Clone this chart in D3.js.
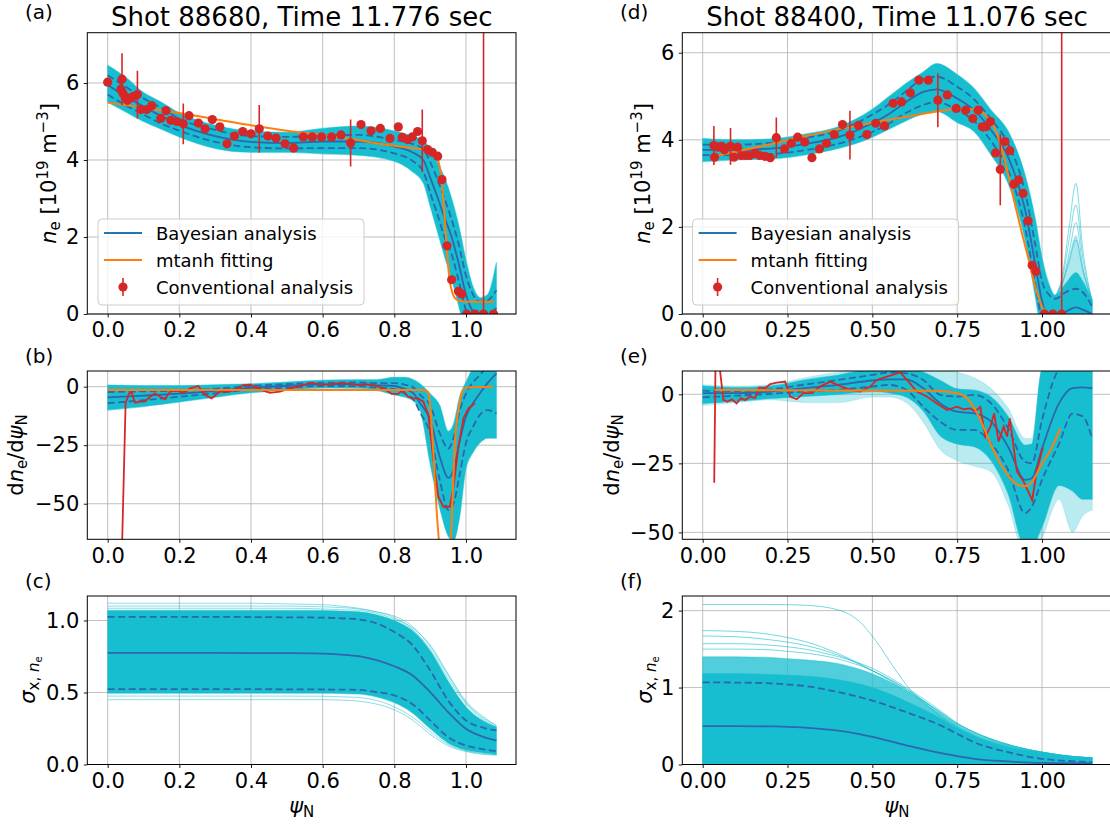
<!DOCTYPE html>
<html>
<head>
<meta charset="utf-8">
<script src="https://cdn.jsdelivr.net/npm/d3@7"></script>
<style>
  body { margin: 0; background: #ffffff; }
  svg { font-family: "DejaVu Sans", sans-serif; }
</style>
</head>
<body>
<div id="fig"></div>
<script>
// ---------- panel (a): ne profile, shot 88680 ----------
var aGrid   = [0, 0.05, 0.1, 0.15, 0.2, 0.3, 0.4, 0.5, 0.6, 0.7, 0.8, 0.85, 0.881, 0.9, 0.92, 0.94, 0.96, 0.98, 1.0, 1.02, 1.04, 1.06, 1.085];
var aMean   = [5.95, 5.65, 5.39, 5.14, 4.92, 4.62, 4.47, 4.44, 4.48, 4.48, 4.35, 4.2, 4.0, 3.55, 3.05, 2.5, 2.0, 1.3, 0.5, 0.05, -0.1, -0.05, 0.15];
var aSdHi   = [6.2, 5.9, 5.6, 5.35, 5.07, 4.78, 4.62, 4.6, 4.64, 4.65, 4.52, 4.42, 4.28, 3.95, 3.5, 3.0, 2.45, 1.8, 1.0, 0.5, 0.32, 0.35, 0.62];
var aSdLo   = [5.7, 5.42, 5.18, 4.94, 4.76, 4.47, 4.33, 4.3, 4.31, 4.31, 4.17, 3.98, 3.7, 3.15, 2.6, 2.0, 1.55, 0.85, 0.1, -0.3, -0.45, -0.45, -0.3];
var aEnvHi  = [6.46, 6.15, 5.75, 5.5, 5.22, 4.9, 4.75, 4.72, 4.82, 4.88, 4.75, 4.62, 4.5, 4.3, 3.95, 3.55, 3.0, 2.3, 1.4, 0.7, 0.42, 0.5, 1.35];
var aEnvLo  = [5.5, 5.25, 5.0, 4.8, 4.6, 4.3, 4.2, 4.2, 4.16, 4.12, 3.97, 3.7, 3.4, 2.8, 2.15, 1.5, 0.9, 0.2, -0.5, -0.8, -0.9, -0.9, -0.8];
var aFitPsi = [0, 0.1, 0.2, 0.3, 0.4, 0.5, 0.6, 0.7, 0.8, 0.85, 0.895, 0.913, 0.923, 0.932, 0.94, 0.946, 0.953, 0.962, 0.974, 0.988, 1.0, 1.078];
var aFit    = [5.49, 5.36, 5.22, 5.06, 4.90, 4.76, 4.65, 4.51, 4.37, 4.31, 4.25, 4.14, 3.97, 3.49, 2.54, 1.76, 0.98, 0.55, 0.37, 0.33, 0.32, 0.32];
var aPsi = [0, 0.037, 0.04, 0.042, 0.048, 0.055, 0.064, 0.072, 0.083, 0.093, 0.109, 0.123, 0.148, 0.163, 0.176, 0.193, 0.211, 0.227, 0.253, 0.272,
            0.292, 0.313, 0.333, 0.354, 0.377, 0.4, 0.423, 0.447, 0.47, 0.495, 0.519, 0.546, 0.571, 0.597, 0.625, 0.651, 0.678, 0.707, 0.735, 0.761,
            0.788, 0.811, 0.822, 0.837, 0.85, 0.865, 0.878, 0.893, 0.906, 0.921, 0.933, 0.947, 0.96, 0.979, 0.988, 1.002, 1.025, 1.049, 1.077];
var aNe  = [6.02, 5.84, 6.10, 5.74, 5.65, 5.55, 5.61, 5.65, 5.70, 5.31, 5.31, 5.41, 5.08, 5.28, 5.03, 5.0, 4.94, 5.15, 4.96, 4.81,
            5.05, 4.86, 4.42, 4.62, 4.74, 4.68, 4.81, 4.62, 4.57, 4.42, 4.31, 4.6, 4.6, 4.6, 4.6, 4.65, 4.44, 4.92, 4.76, 4.82,
            4.56, 4.86, 4.59, 4.53, 4.6, 4.74, 4.5, 4.27, 4.2, 4.1, 3.49, 1.77, 0.89, 0.59, 0.52, 0, 0, 0, 0];
var aErr = [0.08, 0.08, 0.67, 0.08, 0.08, 0.08, 0.08, 0.08, 0.62, 0.08, 0.08, 0.08, 0.08, 0.08, 0.08, 0.08, 0.53, 0.08, 0.08, 0.08,
            0.08, 0.08, 0.08, 0.08, 0.08, 0.08, 0.62, 0.08, 0.08, 0.08, 0.08, 0.08, 0.08, 0.08, 0.08, 0.08, 0.61, 0.08, 0.08, 0.08,
            0.08, 0.08, 0.08, 0.08, 0.08, 0.08, 0.81, 0.08, 0.08, 0.08, 0.08, 0.08, 0.08, 0.08, 0.08, 0.08, 0.08, 40, 0.08];

// ---------- panel (b): gradient, shot 88680 ----------
var bGrid   = [0, 0.1, 0.2, 0.3, 0.4, 0.5, 0.6, 0.7, 0.75, 0.8, 0.83, 0.853, 0.872, 0.9, 0.927, 0.951, 0.965, 0.983, 1.0, 1.02, 1.039, 1.06, 1.085];
var bMean   = [-4.6, -3.8, -3.0, -1.8, -0.5, 0.4, 1.0, 1.0, 0.6, 0.3, -1.0, -2.8, -7.1, -14, -30, -39, -35.6, -22.8, -12.8, -7, -2.8, 1.5, 5.7];
var bSdHi   = [-2.3, -2.0, -1.8, -0.9, 0.3, 1.1, 1.7, 1.8, 1.5, 1.5, 0.8, -0.3, -3.5, -8, -20, -26.4, -22, -10, -3, 2, 5, 9, 15];
var bSdLo   = [-7.0, -5.8, -4.3, -2.8, -1.3, -0.4, 0.3, 0.2, -0.4, -1.0, -3.0, -5.5, -11, -20, -40, -52.7, -50, -37, -24, -17, -12, -10, -11.4];
var bEnvHi  = [0.7, 0.5, 0.5, 0.8, 1.2, 2.0, 2.8, 3.0, 3.0, 4.0, 4.0, 3.0, 1.2, -3, -8, -19, -16, -4, 2, 8, 10, 10, 10];
var bEnvLo  = [-10, -8.5, -6.5, -4.5, -2.6, -1.5, -0.6, -0.7, -1.5, -3.5, -4.5, -6, -10, -33, -52, -64, -66, -55, -35, -28, -24, -22, -22];
var bRedPsi = [0.039, 0.050, 0.053, 0.060, 0.067, 0.076, 0.090, 0.104, 0.118, 0.132, 0.146, 0.160, 0.174, 0.193, 0.211, 0.230, 0.253, 0.272, 0.290, 0.313,
               0.341, 0.365, 0.379, 0.397, 0.416, 0.434, 0.453, 0.481, 0.509, 0.537, 0.569, 0.588, 0.611, 0.639, 0.667, 0.700, 0.723, 0.751, 0.774, 0.793,
               0.811, 0.823, 0.839, 0.853, 0.867, 0.881, 0.895, 0.909, 0.923, 0.937, 0.955, 0.965, 0.979, 0.993, 1.007, 1.025];
var bRed    = [-75, -7.1, -5.7, -2.8, -2.6, -6.8, -6.4, -6.4, -4.3, -2.8, -4.3, -5.4, -2.1, -1.7, -2.6, -0.7, 0.3, -3.6, -5.0, -2.1,
               -2.1, -0.7, 0.7, 0.9, -0.3, -1.7, -2.6, -2.1, -0.7, 0.3, 1.7, 1.1, 0.9, 1.4, 1.4, 0.7, 1.1, 0.3, -1.1, -3.1,
               -3.1, -1.4, -4.3, -5.0, -5.0, -6.4, -12.1, -31.3, -47, -51.3, -51.3, -42.7, -25.6, -13.5, -9.3, -7.1];
var bFitPsi = [0, 0.88, 0.890, 0.895, 0.901, 0.909, 0.918, 0.926, 0.935, 0.945, 0.957, 0.963, 0.969, 0.979, 0.988, 1.002, 1.076];
var bFit    = [-1.4, -1.4, -1.8, -2.8, -10, -28.5, -52.7, -70, -100, -110, -70, -45.6, -24.2, -10, -2.8, -0.3, 0];

// ---------- panel (c): sigma, shot 88680 ----------
var cGrid   = [0, 0.1, 0.2, 0.3, 0.4, 0.5, 0.6, 0.65, 0.7, 0.75, 0.8, 0.85, 0.9, 0.95, 1.0, 1.05, 1.085];
var cMean   = [0.775, 0.775, 0.775, 0.775, 0.774, 0.773, 0.77, 0.763, 0.752, 0.725, 0.682, 0.62, 0.503, 0.364, 0.248, 0.19, 0.167];
var cSdHi   = [1.025, 1.025, 1.025, 1.025, 1.024, 1.022, 1.02, 1.015, 1.007, 0.98, 0.92, 0.83, 0.654, 0.445, 0.306, 0.255, 0.237];
var cSdLo   = [0.524, 0.524, 0.524, 0.523, 0.523, 0.522, 0.521, 0.52, 0.518, 0.503, 0.48, 0.42, 0.306, 0.19, 0.132, 0.105, 0.093];
var cEnvHi  = [1.07, 1.07, 1.07, 1.07, 1.07, 1.07, 1.07, 1.065, 1.06, 1.04, 1.0, 0.93, 0.79, 0.58, 0.40, 0.30, 0.26];
var cEnvLo  = [0.495, 0.495, 0.495, 0.495, 0.495, 0.495, 0.495, 0.493, 0.49, 0.47, 0.43, 0.36, 0.25, 0.15, 0.10, 0.08, 0.07];
var cOut1   = [1.12, 1.12, 1.12, 1.12, 1.12, 1.115, 1.11, 1.10, 1.085, 1.06, 1.02, 0.94, 0.80, 0.60, 0.42, 0.31, 0.26];
var cOut2   = [1.10, 1.10, 1.10, 1.10, 1.10, 1.10, 1.095, 1.09, 1.08, 1.06, 1.03, 0.96, 0.82, 0.62, 0.43, 0.32, 0.27];
var cOut3   = [1.085, 1.085, 1.085, 1.085, 1.085, 1.085, 1.08, 1.075, 1.07, 1.05, 1.01, 0.95, 0.83, 0.63, 0.44, 0.33, 0.27];
var cOut4   = [0.45, 0.45, 0.45, 0.45, 0.45, 0.45, 0.45, 0.447, 0.44, 0.42, 0.38, 0.31, 0.21, 0.13, 0.09, 0.07, 0.065];
var cOut5   = [0.475, 0.475, 0.475, 0.475, 0.475, 0.475, 0.474, 0.47, 0.465, 0.445, 0.40, 0.33, 0.23, 0.14, 0.095, 0.075, 0.068];

// ---------- panel (d): ne profile, shot 88400 ----------
var dGrid   = [0, 0.1, 0.2, 0.3, 0.4, 0.5, 0.55, 0.6, 0.65, 0.69, 0.75, 0.8, 0.85, 0.9, 0.95, 0.98, 1.0, 1.02, 1.04, 1.07, 1.1, 1.12, 1.148];
var dMean   = [3.77, 3.77, 3.80, 3.90, 4.06, 4.38, 4.6, 4.87, 5.1, 5.16, 4.95, 4.68, 4.22, 3.61, 2.4, 1.15, 0.3, -0.1, -0.1, 0.05, 0.15, 0.1, 0.0];
var dSdHi   = [3.89, 3.89, 3.93, 4.04, 4.21, 4.58, 4.82, 5.12, 5.4, 5.45, 5.22, 4.93, 4.47, 3.91, 2.8, 1.6, 0.75, 0.45, 0.35, 0.5, 0.58, 0.5, 0.17];
var dSdLo   = [3.65, 3.65, 3.67, 3.76, 3.91, 4.18, 4.38, 4.62, 4.8, 4.87, 4.68, 4.43, 3.97, 3.31, 2.0, 0.7, -0.15, -0.5, -0.5, -0.4, -0.3, -0.3, -0.35];
var dEnvHi  = [4.03, 4.0, 4.02, 4.13, 4.3, 4.7, 5.0, 5.3, 5.56, 5.75, 5.5, 5.18, 4.68, 4.2, 3.2, 2.2, 1.3, 0.7, 0.42, 0.7, 0.95, 0.75, 0.3];
var dEnvLo  = [3.5, 3.54, 3.56, 3.65, 3.8, 4.06, 4.25, 4.44, 4.6, 4.65, 4.4, 4.19, 3.65, 3.0, 1.7, 0.4, -0.5, -1, -1, -1, -1, -1, -1];
var dSpikePsi = [1.03, 1.06, 1.08, 1.1, 1.12, 1.148];
var dSpike1 = [0.3, 0.9, 2.0, 3.0, 1.5, 0.3];
var dSpike2 = [0.3, 0.8, 1.7, 2.5, 1.3, 0.3];
var dSpike3 = [0.35, 0.7, 1.4, 2.1, 1.1, 0.3];
var dSpike4 = [0.35, 0.7, 1.2, 1.7, 1.0, 0.3];
var dSpikeHalo = [0.35, 0.75, 1.3, 1.8, 1.05, 0.3];
var dFitPsi = [0.038, 0.1, 0.2, 0.3, 0.4, 0.5, 0.6, 0.7, 0.75, 0.8, 0.833, 0.863, 0.882, 0.902, 0.922, 0.941, 0.961, 0.98, 1.0, 1.015];
var dFit    = [3.63, 3.73, 3.9, 4.08, 4.24, 4.39, 4.53, 4.66, 4.71, 4.70, 4.57, 4.22, 3.77, 3.15, 2.46, 1.85, 1.24, 0.63, 0.17, 0.0];
var dPsi = [0.033, 0.035, 0.046, 0.056, 0.064, 0.082, 0.092, 0.103, 0.114, 0.127, 0.139, 0.155, 0.168, 0.184, 0.199, 0.217, 0.241, 0.261, 0.280, 0.301,
            0.322, 0.344, 0.365, 0.388, 0.412, 0.434, 0.459, 0.484, 0.510, 0.536, 0.561, 0.586, 0.612, 0.637, 0.665, 0.693, 0.721, 0.747, 0.775, 0.796,
            0.812, 0.824, 0.835, 0.848, 0.863, 0.877, 0.891, 0.905, 0.917, 0.931, 0.944, 0.959, 0.971, 0.982, 1.007, 1.032, 1.058];
var dNe  = [3.87, 3.60, 3.83, 3.85, 3.77, 3.85, 3.60, 3.83, 3.64, 3.64, 3.64, 3.69, 3.64, 3.62, 3.59, 4.05, 3.79, 3.92, 4.06, 3.95,
            3.59, 3.79, 3.92, 4.12, 4.35, 4.11, 4.33, 4.12, 4.38, 4.32, 4.84, 4.87, 5.08, 5.37, 5.37, 4.91, 5.03, 4.72, 4.68, 4.49,
            4.68, 4.30, 4.30, 4.42, 3.70, 3.32, 3.96, 3.75, 2.98, 3.08, 2.77, 2.14, 1.12, 0.98, 0, 0, 0];
var dErr = [0.45, 0.08, 0.08, 0.08, 0.08, 0.42, 0.08, 0.08, 0.08, 0.08, 0.08, 0.08, 0.08, 0.08, 0.08, 0.46, 0.08, 0.08, 0.08, 0.08,
            0.08, 0.08, 0.08, 0.08, 0.08, 0.56, 0.08, 0.08, 0.08, 0.08, 0.08, 0.08, 0.08, 0.08, 0.08, 0.62, 0.08, 0.08, 0.08, 0.08,
            0.08, 0.08, 0.08, 0.08, 0.08, 0.82, 0.08, 0.08, 0.08, 0.08, 0.08, 0.08, 0.08, 0.08, 0.08, 0.08, 40];

// ---------- panel (e): gradient, shot 88400 ----------
var eGrid   = [0, 0.1, 0.2, 0.3, 0.4, 0.5, 0.55, 0.6, 0.65, 0.7, 0.75, 0.8, 0.85, 0.9, 0.95, 0.97, 1.0, 1.05, 1.09, 1.12, 1.148];
var eMean   = [0.4, 0.4, 1.0, 2.2, 3.4, 5.0, 5.4, 5.4, 2.2, -3.3, -6.3, -6.9, -9.9, -19, -31, -30.4, -19.6, -3.3, 2.2, 2.5, 2.2];
var eSdHi   = [1.3, 1.2, 1.8, 3.5, 5.2, 7.0, 7.9, 7.6, 5.2, -0.2, -0.8, -0.2, -3.3, -12.3, -24.4, -25, -9.3, 9, 12, 14, 14];
var eSdLo   = [-1.1, -0.5, 0.2, 1.0, 1.7, 2.8, 3.4, 1.6, -4.5, -9.9, -12.9, -12.9, -17.8, -27.4, -43, -40.7, -31, -18, -7, -8, -16];
var eEnvHi  = [3, 2.5, 3, 5.2, 7, 9, 9, 9, 8, 5, 2, 1.5, -1, -8, -18.4, -18, 9, 9, 9, 9, 9];
var eEnvLo  = [-3.3, -2.5, -1.5, -0.8, 0, 1, 0.5, -1, -6, -15, -18, -19, -24, -36, -55, -55, -48, -33, -35, -38, -38];
var eHaloHi = [3.5, 3, 3.5, 6, 8, 9, 9, 9, 9, 9, 8, 6, 2, -5, -16, -16, 9, 9, 9, 9, 9];
var eHaloLo = [-4, -3, -2, -3, -3, -1, -1, -3, -10, -20, -24, -26, -28, -40, -58, -58, -52, -38, -50, -44, -42];
var eRedPsi = [0.034, 0.038, 0.046, 0.061, 0.073, 0.086, 0.100, 0.112, 0.125, 0.140, 0.154, 0.167, 0.184, 0.199, 0.218, 0.243, 0.258, 0.277, 0.297, 0.322,
               0.346, 0.376, 0.405, 0.435, 0.464, 0.494, 0.513, 0.543, 0.582, 0.602, 0.631, 0.661, 0.690, 0.720, 0.749, 0.769, 0.789, 0.803, 0.818, 0.833,
               0.848, 0.859, 0.872, 0.887, 0.897, 0.905, 0.926, 0.946, 0.971, 0.985, 1.003];
var eRed    = [-32, 14, 14, -2, -2.7, -1.8, -3.3, -1.4, -2.1, -0.8, -1.4, 2.5, 2.2, 3.7, 4.2, 4.6, -0.8, -1.8, 0.4, 0.4,
               2.8, 4.6, 3.0, 1.6, 1.0, 2.8, 5.2, 6.4, 7.9, 5.2, 1.0, -0.8, -3.3, -5.7, -4.5, -5.4, -5.1, -6.3, -4.5, -15.3,
               -11.7, -6.9, -17.1, -11.7, -15.3, -8.7, -28, -31.6, -38.3, -27.4, -19.2];
var eFitPsi = [0.035, 0.69, 0.749, 0.779, 0.798, 0.823, 0.848, 0.877, 0.907, 0.931, 0.954, 0.971, 0.995, 1.025, 1.054];
var eFit    = [1.57, 1.3, 0.4, -1.4, -4.5, -10.5, -17.8, -25, -30.4, -32.9, -33.2, -31.6, -26.2, -20.2, -12.3];

// ---------- panel (f): sigma, shot 88400 ----------
var fGrid   = [0, 0.1, 0.2, 0.25, 0.3, 0.4, 0.5, 0.6, 0.7, 0.75, 0.8, 0.9, 1.0, 1.1, 1.148];
var fMean   = [0.50, 0.50, 0.495, 0.49, 0.48, 0.44, 0.36, 0.25, 0.15, 0.11, 0.074, 0.04, 0.02, 0.018, 0.017];
var fSdHi   = [1.067, 1.065, 1.055, 1.04, 1.02, 0.94, 0.83, 0.68, 0.51, 0.40, 0.29, 0.16, 0.074, 0.04, 0.03];
var fEnvHi  = [1.18, 1.18, 1.17, 1.16, 1.15, 1.1, 1.0, 0.82, 0.6, 0.47, 0.37, 0.23, 0.15, 0.095, 0.085];
var fHaloHi = [1.40, 1.40, 1.39, 1.375, 1.36, 1.31, 1.18, 0.96, 0.66, 0.51, 0.40, 0.25, 0.16, 0.1, 0.087];
var fOut2   = [1.74, 1.73, 1.69, 1.65, 1.6, 1.44, 1.22, 0.96, 0.68, 0.53, 0.42, 0.26, 0.16, 0.1, 0.087];
var fOut3   = [1.67, 1.66, 1.62, 1.59, 1.55, 1.42, 1.22, 0.98, 0.68, 0.53, 0.42, 0.26, 0.16, 0.1, 0.087];
var fOut4   = [1.57, 1.57, 1.55, 1.53, 1.5, 1.4, 1.25, 1.0, 0.7, 0.54, 0.42, 0.26, 0.16, 0.1, 0.087];
var fOut5   = [1.50, 1.50, 1.49, 1.47, 1.45, 1.37, 1.22, 0.98, 0.67, 0.52, 0.41, 0.25, 0.16, 0.1, 0.087];
var fOut1Psi = [0, 0.2, 0.303, 0.407, 0.459, 0.510, 0.562, 0.614, 0.666, 0.718, 0.770, 0.873, 1.0, 1.148];
var fOut1    = [2.08, 2.08, 2.07, 2.0, 1.87, 1.61, 1.27, 0.96, 0.75, 0.57, 0.44, 0.23, 0.12, 0.07];

// ---------- ticks, titles, legend ----------
var xTicksL = [0, 0.2, 0.4, 0.6, 0.8, 1.0];
var xTicksR = [0, 0.25, 0.5, 0.75, 1.0];
var neTicks = [0, 2, 4, 6];
var gradTicks = [-50, -25, 0];
var cTicks = [0, 0.5, 1.0];
var fTicks = [0, 1, 2];
var titles = ["Shot 88680, Time 11.776 sec", "Shot 88400, Time 11.076 sec"];
var panelTags = ["(a)", "(b)", "(c)", "(d)", "(e)", "(f)"];
var legendLabels = ["Bayesian analysis", "mtanh fitting", "Conventional analysis"];

var CYAN = "#17becf", BLUE = "#1f77b4", MEAN = "#2d67ad", RED = "#d62728", ORANGE = "#ff7f0e";

var svg = d3.select("#fig").append("svg")
    .attr("width", 1110)
    .attr("height", 827);
svg.append("rect").attr("width", 1110).attr("height", 827).attr("fill", "#ffffff");

var colL = { left: 87.3, right: 516 }, colR = { left: 682.3, right: 1111.6 };
var row1 = { top: 32.7, bottom: 314 }, row2 = { top: 371, bottom: 539.3 }, row3 = { top: 596, bottom: 764.5 };

var panelCount = 0;
function makePanel(col, row, xDom, yDom, xTicks, xFmt, yTicks, yFmt) {
    panelCount++;
    var x = d3.scaleLinear().domain(xDom).range([col.left, col.right]);
    var y = d3.scaleLinear().domain(yDom).range([row.bottom, row.top]);
    var g = svg.append("g");
    var grid = g.append("g");
    grid.selectAll(null).data(xTicks).enter().append("line")
        .attr("x1", d => x(d)).attr("x2", d => x(d))
        .attr("y1", row.top).attr("y2", row.bottom)
        .attr("stroke", "#b0b0b0").attr("stroke-width", 0.8);
    grid.selectAll(null).data(yTicks).enter().append("line")
        .attr("x1", col.left).attr("x2", col.right)
        .attr("y1", d => y(d)).attr("y2", d => y(d))
        .attr("stroke", "#b0b0b0").attr("stroke-width", 0.8);

    svg.append("clipPath").attr("id", "clip" + panelCount)
        .append("rect")
        .attr("x", col.left).attr("y", row.top)
        .attr("width", col.right - col.left).attr("height", row.bottom - row.top);
    var plot = g.append("g").attr("clip-path", "url(#clip" + panelCount + ")");
    var axes = g.append("g");

    var xa = axes.append("g")
        .attr("transform", "translate(0," + row.bottom + ")")
        .call(d3.axisBottom(x).tickValues(xTicks).tickFormat(xFmt).tickSize(3.5).tickPadding(5));
    var ya = axes.append("g")
        .attr("transform", "translate(" + col.left + ",0)")
        .call(d3.axisLeft(y).tickValues(yTicks).tickFormat(yFmt).tickSize(3.5).tickPadding(4.5));
    [xa, ya].forEach(function (a) {
        a.select(".domain").remove();
        a.attr("font-size", 21).attr("font-family", "DejaVu Sans");
        a.selectAll("line").attr("stroke", "#000").attr("stroke-width", 0.9);
        a.selectAll("text").attr("fill", "#000");
    });
    axes.append("rect")
        .attr("x", col.left).attr("y", row.top)
        .attr("width", col.right - col.left).attr("height", row.bottom - row.top)
        .attr("fill", "none").attr("stroke", "#000").attr("stroke-width", 1);
    return { x: x, y: y, plot: plot };
}

function band(p, psi, lo, hi, opacity) {
    var area = d3.area()
        .x((d, i) => p.x(psi[i]))
        .y0((d, i) => lo ? p.y(lo[i]) : p.y(0))
        .y1((d, i) => p.y(hi[i]))
        .curve(d3.curveMonotoneX);
    p.plot.append("path").datum(psi)
        .attr("d", area)
        .attr("fill", CYAN).attr("fill-opacity", opacity)
        .attr("stroke", CYAN).attr("stroke-opacity", opacity * 0.5).attr("stroke-width", 1.2);
}

function curve(p, psi, vals, color, width, opts) {
    opts = opts || {};
    var line = d3.line()
        .x((d, i) => p.x(psi[i]))
        .y((d, i) => p.y(vals[i]))
        .curve(opts.linear ? d3.curveLinear : d3.curveMonotoneX);
    p.plot.append("path").datum(psi)
        .attr("d", line)
        .attr("fill", "none")
        .attr("stroke", color)
        .attr("stroke-width", width)
        .attr("stroke-opacity", opts.opacity == null ? 1 : opts.opacity)
        .attr("stroke-dasharray", opts.dash || null);
}

function bayes(p, psi, mean, sdHi, sdLo) {
    curve(p, psi, mean, MEAN, 1.8);
    curve(p, psi, sdHi, MEAN, 1.8, { dash: "7,3.5" });
    if (sdLo) curve(p, psi, sdLo, MEAN, 1.8, { dash: "7,3.5" });
}

function points(p, psi, ne, err) {
    p.plot.selectAll(null).data(psi).enter().append("line")
        .attr("x1", d => p.x(d)).attr("x2", d => p.x(d))
        .attr("y1", (d, i) => p.y(ne[i] - err[i]))
        .attr("y2", (d, i) => p.y(ne[i] + err[i]))
        .attr("stroke", RED).attr("stroke-width", 1.6);
    p.plot.selectAll(null).data(psi).enter().append("circle")
        .attr("cx", d => p.x(d))
        .attr("cy", (d, i) => p.y(ne[i]))
        .attr("r", 4.6)
        .attr("fill", RED);
}

function legend(x0, y0) {
    var lg = svg.append("g");
    lg.append("rect")
        .attr("x", x0).attr("y", y0).attr("width", 266).attr("height", 86).attr("rx", 4)
        .attr("fill", "#ffffff").attr("fill-opacity", 0.8)
        .attr("stroke", "#cccccc").attr("stroke-width", 1);
    var rows = [14, 41, 68];
    lg.append("line").attr("x1", x0 + 6).attr("x2", x0 + 44)
        .attr("y1", y0 + rows[0]).attr("y2", y0 + rows[0])
        .attr("stroke", BLUE).attr("stroke-width", 2);
    lg.append("line").attr("x1", x0 + 6).attr("x2", x0 + 44)
        .attr("y1", y0 + rows[1]).attr("y2", y0 + rows[1])
        .attr("stroke", ORANGE).attr("stroke-width", 2);
    lg.append("line").attr("x1", x0 + 25).attr("x2", x0 + 25)
        .attr("y1", y0 + rows[2] - 9).attr("y2", y0 + rows[2] + 9)
        .attr("stroke", RED).attr("stroke-width", 1.6);
    lg.append("circle").attr("cx", x0 + 25).attr("cy", y0 + rows[2]).attr("r", 4.6).attr("fill", RED);
    lg.selectAll(null).data(legendLabels).enter().append("text")
        .attr("x", x0 + 58)
        .attr("y", (d, i) => y0 + rows[i] + 6.5)
        .attr("font-size", 18)
        .attr("fill", "#000")
        .text(d => d);
}

var fmt1 = d3.format(".1f"), fmt2 = d3.format(".2f"), fmtI = d3.format("d");
var xDomL = [-0.0569, 1.1396], xDomR = [-0.0601, 1.2051];

// (a)
var pa = makePanel(colL, row1, xDomL, [0, 7.306], xTicksL, fmt1, neTicks, fmtI);
band(pa, aGrid, aEnvLo, aEnvHi, 1);
bayes(pa, aGrid, aMean, aSdHi, aSdLo);
curve(pa, aFitPsi, aFit, ORANGE, 2);
points(pa, aPsi, aNe, aErr);

// (b)
var pb = makePanel(colL, row2, xDomL, [-65.2, 6.7], xTicksL, fmt1, gradTicks, fmtI);
band(pb, bGrid, bEnvLo, bEnvHi, 1);
bayes(pb, bGrid, bMean, bSdHi, bSdLo);
curve(pb, bRedPsi, bRed, RED, 1.8, { linear: true });
curve(pb, bFitPsi, bFit, ORANGE, 2);

// (c)
var pc = makePanel(colL, row3, xDomL, [0, 1.17], xTicksL, fmt1, cTicks, fmt1);
[cOut1, cOut2, cOut3, cOut4, cOut5].forEach(function (o) {
    curve(pc, cGrid, o, CYAN, 1, { opacity: 0.5 });
});
band(pc, cGrid, cEnvLo, cEnvHi, 1);
bayes(pc, cGrid, cMean, cSdHi, cSdLo);

// (d)
var pd = makePanel(colR, row1, xDomR, [0, 6.46], xTicksR, fmt2, neTicks, fmtI);
band(pd, dSpikePsi, null, dSpikeHalo, 0.35);
[dSpike1, dSpike2, dSpike3, dSpike4].forEach(function (o) {
    curve(pd, dSpikePsi, o, CYAN, 1, { opacity: 0.55 });
});
band(pd, dGrid, dEnvLo, dEnvHi, 1);
bayes(pd, dGrid, dMean, dSdHi, dSdLo);
curve(pd, dFitPsi, dFit, ORANGE, 2);
points(pd, dPsi, dNe, dErr);

// (e)
var pe = makePanel(colR, row2, xDomR, [-52.5, 8.44], xTicksR, fmt2, gradTicks, fmtI);
band(pe, eGrid, eHaloLo, eHaloHi, 0.3);
band(pe, eGrid, eEnvLo, eEnvHi, 1);
bayes(pe, eGrid, eMean, eSdHi, eSdLo);
curve(pe, eRedPsi, eRed, RED, 1.8, { linear: true });
curve(pe, eFitPsi, eFit, ORANGE, 2);

// (f)
var pf = makePanel(colR, row3, xDomR, [0, 2.19], xTicksR, fmt2, fTicks, fmtI);
curve(pf, fOut1Psi, fOut1, CYAN, 1, { opacity: 0.6 });
[fOut2, fOut3, fOut4, fOut5].forEach(function (o) {
    curve(pf, fGrid, o, CYAN, 1, { opacity: 0.6 });
});
band(pf, fGrid, null, fHaloHi, 0.75);
band(pf, fGrid, null, fEnvHi, 1);
bayes(pf, fGrid, fMean, fSdHi, null);

legend(98, 219);
legend(692.6, 219);

// titles and panel tags
svg.selectAll(".title").data(titles).enter().append("text")
    .attr("class", "title")
    .attr("x", (d, i) => i === 0 ? 301.7 : 897)
    .attr("y", 26)
    .attr("text-anchor", "middle")
    .attr("font-size", 26)
    .text(d => d);

var tagPos = [[25, 19], [25, 363], [25, 588], [620, 19], [620, 363], [620, 588]];
svg.selectAll(".tag").data(panelTags).enter().append("text")
    .attr("class", "tag")
    .attr("x", (d, i) => tagPos[i][0])
    .attr("y", (d, i) => tagPos[i][1])
    .attr("font-size", 20)
    .text(d => d);

// axis labels
function neLabel(x, y) {
    var t = svg.append("text")
        .attr("transform", "translate(" + x + "," + y + ") rotate(-90)")
        .attr("text-anchor", "middle").attr("font-size", 21);
    t.append("tspan").attr("font-style", "italic").text("n");
    t.append("tspan").attr("font-size", 15).attr("dy", 4).text("e");
    t.append("tspan").attr("dy", -4).text(" [10");
    t.append("tspan").attr("font-size", 15).attr("dy", -8).text("19");
    t.append("tspan").attr("dy", 8).text(" m");
    t.append("tspan").attr("font-size", 15).attr("dy", -8).text("\u22123");
    t.append("tspan").attr("dy", 8).text("]");
}
function gradLabel(x, y) {
    var t = svg.append("text")
        .attr("transform", "translate(" + x + "," + y + ") rotate(-90)")
        .attr("text-anchor", "middle").attr("font-size", 21);
    t.append("tspan").text("d");
    t.append("tspan").attr("font-style", "italic").text("n");
    t.append("tspan").attr("font-size", 15).attr("dy", 4).text("e");
    t.append("tspan").attr("dy", -4).text("/d");
    t.append("tspan").attr("font-style", "italic").text("\u03c8");
    t.append("tspan").attr("font-size", 15).attr("dy", 4).text("N");
}
function sigmaLabel(x, y) {
    var t = svg.append("text")
        .attr("transform", "translate(" + x + "," + y + ") rotate(-90)")
        .attr("text-anchor", "middle").attr("font-size", 21);
    t.append("tspan").attr("font-style", "italic").text("\u03c3");
    t.append("tspan").attr("font-size", 15).attr("dy", 4).text("x, ");
    t.append("tspan").attr("font-size", 15).attr("font-style", "italic").text("n");
    t.append("tspan").attr("font-size", 10).attr("dy", 3).text("e");
}
function psiLabel(x, y) {
    var t = svg.append("text")
        .attr("x", x).attr("y", y)
        .attr("text-anchor", "middle").attr("font-size", 21);
    t.append("tspan").attr("font-style", "italic").text("\u03c8");
    t.append("tspan").attr("font-size", 15).attr("dy", 4).text("N");
}
neLabel(55.5, 173.4);
neLabel(650, 173.4);
gradLabel(23, 455);
gradLabel(619, 455);
sigmaLabel(35, 680);
sigmaLabel(652, 680);
psiLabel(301.7, 813);
psiLabel(897, 813);
</script>
</body>
</html>
